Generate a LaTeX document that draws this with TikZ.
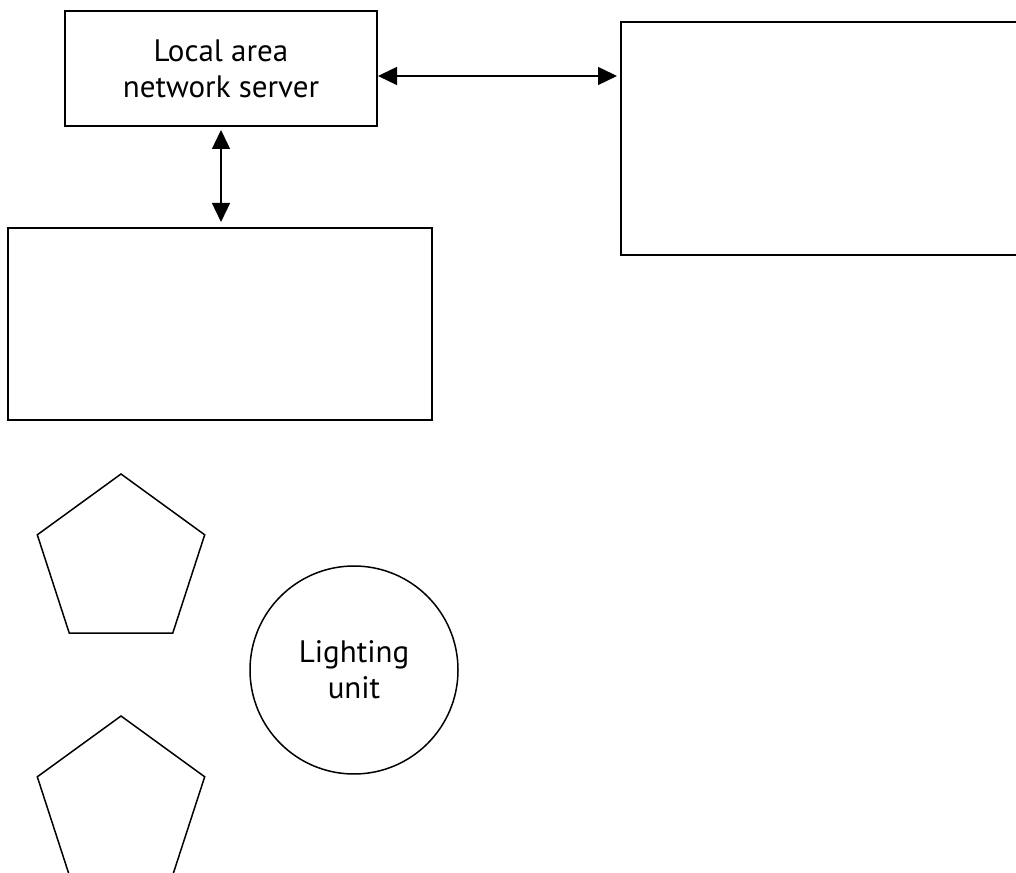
\documentclass[tikz,border=0pt]{standalone}
\usepackage{fontspec}
\setmainfont{PT Sans}
\usetikzlibrary{shapes.geometric,arrows.meta}
\tikzset{
    box/.style={draw,line width=1.6pt,rectangle,inner sep=0pt,outer sep=0pt},
    slot/.style={draw,line width=1.5pt,regular polygon,regular polygon sides=5,minimum size=176pt,inner sep=0pt,outer sep=0pt},
    lamp/.style={draw,line width=1.5pt,circle,minimum size=208pt,inner sep=0pt,outer sep=0pt},
    txt/.style={font=\fontsize{31}{36}\selectfont,align=center},
    link/.style={{Triangle[length=19pt,width=18pt]}-{Triangle[length=19pt,width=18pt]},line width=1.4pt}
}
\begin{document}
\begin{tikzpicture}[x=1pt,y=1pt]
    \useasboundingbox (0,0) rectangle (1016,872);
    \clip (0,0) rectangle (1016,872);
    \node[box,txt,minimum width=312pt,minimum height=115pt] (server) at (221,803.5) {Local area\\network server};
    \node[box,minimum width=430pt,minimum height=233pt] (rightbox) at (836,733.5) {};
    \node[box,minimum width=424pt,minimum height=192pt] (lowbox) at (220,548) {};
    \node[slot] (pent1) at (121,310) {};
    \node[slot] (pent2) at (121,68) {};
    \node[lamp,txt] (light) at (354,202) {Lighting\\unit};
    % connectors
    \path ([yshift=-7.5pt]server.east) coordinate (s1);
    \draw[link,shorten <=1pt,shorten >=4pt] (s1) -- (s1 -| rightbox.west);
    \draw[link,shorten <=4pt,shorten >=6pt] (server.south) -- (server.south |- lowbox.north);
\end{tikzpicture}
\end{document}
